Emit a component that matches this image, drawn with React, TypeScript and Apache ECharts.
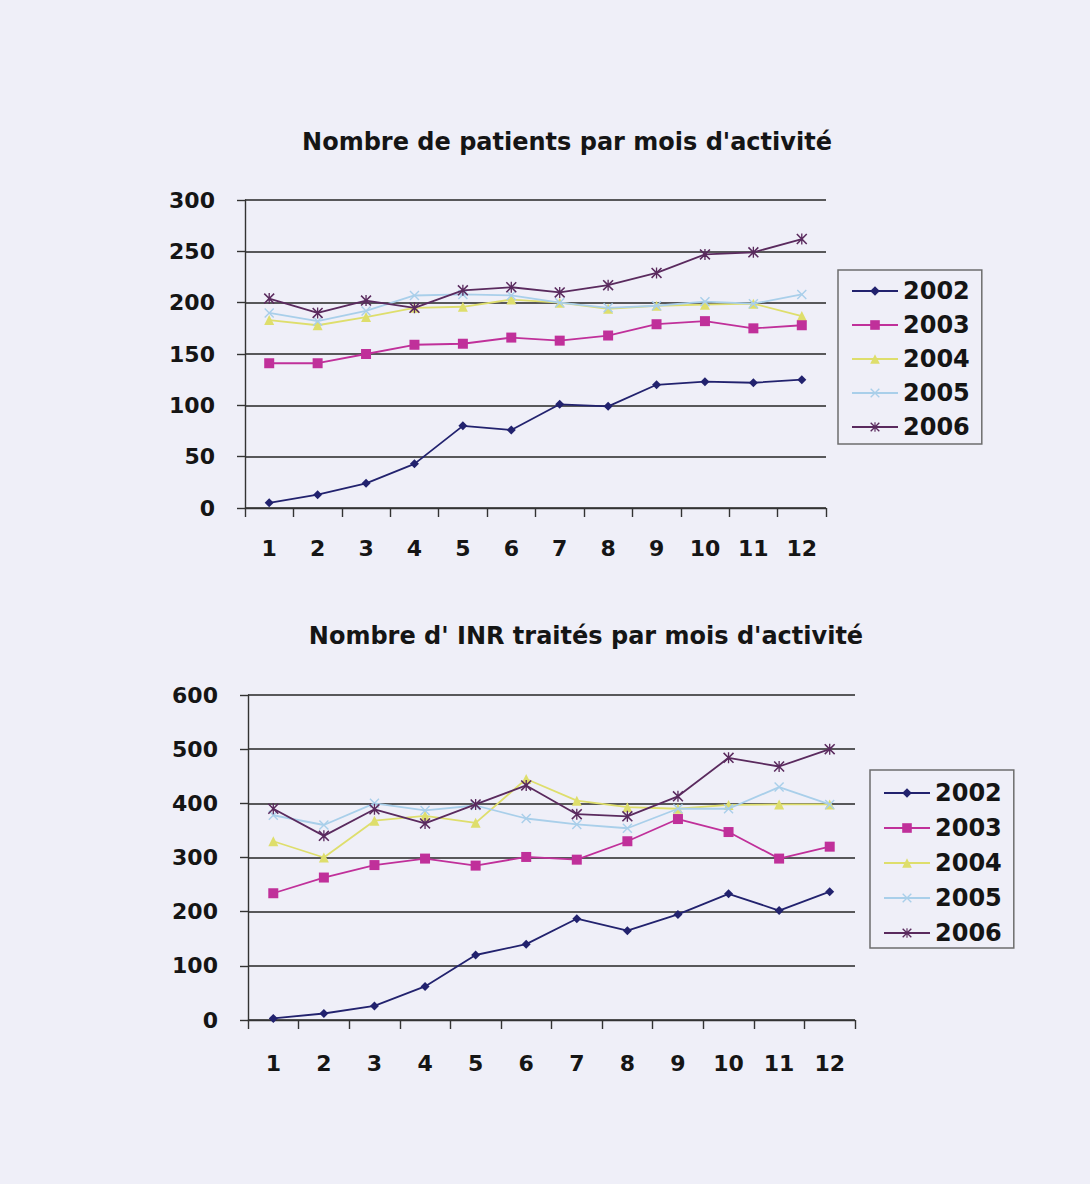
import React, { useEffect, useRef } from "react";
import * as echarts from "echarts";

const months = ["1", "2", "3", "4", "5", "6", "7", "8", "9", "10", "11", "12"];
const years = ["2002", "2003", "2004", "2005", "2006"];

const titlePatients = "Nombre de patients par mois d'activité";
const titleInr = "Nombre d' INR traités par mois d'activité";

const patients2002 = [5, 13, 24, 43, 80, 76, 101, 99, 120, 123, 122, 125];
const patients2003 = [141, 141, 150, 159, 160, 166, 163, 168, 179, 182, 175, 178];
const patients2004 = [183, 178, 186, 195, 196, 203, 200, 194, 197, 198, 199, 187];
const patients2005 = [190, 182, 192, 207, 208, 207, 200, 195, 197, 201, 199, 208];
const patients2006 = [204, 190, 202, 195, 212, 215, 210, 217, 229, 247, 249, 262];

const inr2002 = [3, 12, 26, 62, 120, 140, 187, 165, 195, 233, 202, 237];
const inr2003 = [234, 263, 286, 298, 285, 301, 296, 330, 371, 347, 298, 320];
const inr2004 = [330, 300, 368, 377, 364, 445, 405, 393, 390, 397, 398, 398];
const inr2005 = [378, 360, 400, 387, 396, 372, 361, 354, 390, 390, 430, 398];
const inr2006 = [390, 340, 389, 363, 398, 433, 380, 376, 413, 484, 468, 500];

const patientsSeries = [patients2002, patients2003, patients2004, patients2005, patients2006];
const inrSeries = [inr2002, inr2003, inr2004, inr2005, inr2006];

const X_PATH =
  "path://M0,1 L1,0 L5,4 L9,0 L10,1 L6,5 L10,9 L9,10 L5,6 L1,10 L0,9 L4,5 Z";
const STAR_PATH =
  "path://M0,1 L1,0 L5,4 L9,0 L10,1 L6,5 L10,9 L9,10 L5,6 L1,10 L0,9 L4,5 Z M4.4,0 L5.6,0 L5.6,10 L4.4,10 Z";

const styles = [
  { color: "#22226e", symbol: "diamond", size: 9 },
  { color: "#c0309a", symbol: "rect", size: 10 },
  { color: "#dede6c", symbol: "triangle", size: 10 },
  { color: "#a9cfea", symbol: X_PATH, size: 10 },
  { color: "#5a2a5e", symbol: STAR_PATH, size: 11 },
];

const FONT = "DejaVu Sans";
const BG = "#efeff8";

export default function App() {
  const ref = useRef<HTMLDivElement>(null);

  useEffect(() => {
    document.body.style.margin = "0";
    const chart = echarts.init(ref.current!, undefined, { renderer: "svg" });

    const axisLabel = (margin: number) => ({
      fontFamily: FONT,
      fontWeight: "bold",
      fontSize: 22,
      color: "#151515",
      margin,
    });

    const makeSeries = (data: number[][], idx: number) =>
      data.map((vals, i) => ({
        name: years[i],
        type: "line",
        xAxisIndex: idx,
        yAxisIndex: idx,
        data: vals,
        symbol: styles[i].symbol,
        symbolSize: styles[i].size,
        showSymbol: true,
        lineStyle: { color: styles[i].color, width: 1.8 },
        itemStyle: { color: styles[i].color },
        z: 2 + (i === 0 ? 5 : i === 1 ? 4 : i === 4 ? 3 : i === 3 ? 2 : 1),
      }));

    const legend = (left: number, top: number, gap: number, pad: number[]) => ({
      orient: "vertical",
      left,
      top,
      data: years,
      itemWidth: 46,
      itemHeight: 12,
      itemGap: gap,
      padding: pad,
      borderColor: "#6e6e6e",
      borderWidth: 1.5,
      backgroundColor: BG,
      textStyle: {
        fontFamily: FONT,
        fontWeight: "bold",
        fontSize: 24,
        lineHeight: 24,
        color: "#151515",
      },
      selectedMode: false,
    });

    const xAxis = (gridIndex: number, margin: number) => ({
      type: "category",
      gridIndex,
      data: months,
      boundaryGap: true,
      axisLine: { show: true, lineStyle: { color: "#333", width: 1.4 } },
      axisTick: { show: true, length: 9, lineStyle: { color: "#333", width: 1.4 } },
      axisLabel: axisLabel(margin),
      splitLine: { show: false },
    });

    const yAxis = (gridIndex: number, max: number, interval: number) => ({
      type: "value",
      gridIndex,
      min: 0,
      max,
      interval,
      axisLine: { show: true, lineStyle: { color: "#333", width: 1.4 } },
      axisTick: { show: true, length: 8, lineStyle: { color: "#333", width: 1.4 } },
      axisLabel: axisLabel(30),
      splitLine: { show: true, lineStyle: { color: "#262626", width: 1.5 } },
    });

    chart.setOption({
      animation: false,
      backgroundColor: BG,
      graphic: [
        {
          type: "text",
          x: 567,
          y: 142,
          style: {
            text: titlePatients,
            font: `bold 24px "${FONT}"`,
            fill: "#151515",
            textAlign: "center",
            textVerticalAlign: "middle",
          },
        },
        {
          type: "text",
          x: 586,
          y: 636,
          style: {
            text: titleInr,
            font: `bold 24px "${FONT}"`,
            fill: "#151515",
            textAlign: "center",
            textVerticalAlign: "middle",
          },
        },
      ],
      grid: [
        { left: 245, width: 581, top: 200, height: 308 },
        { left: 248, width: 607, top: 695, height: 325 },
      ],
      legend: [
        legend(838, 270, 10, [9, 12, 5, 13]),
        legend(870, 770, 11, [11, 12, 3, 13]),
      ],
      xAxis: [xAxis(0, 29), xAxis(1, 32)],
      yAxis: [yAxis(0, 300, 50), yAxis(1, 600, 100)],
      series: [...makeSeries(patientsSeries, 0), ...makeSeries(inrSeries, 1)],
    });

    return () => chart.dispose();
  }, []);

  return <div ref={ref} style={{ width: 1090, height: 1184 }} />;
}
